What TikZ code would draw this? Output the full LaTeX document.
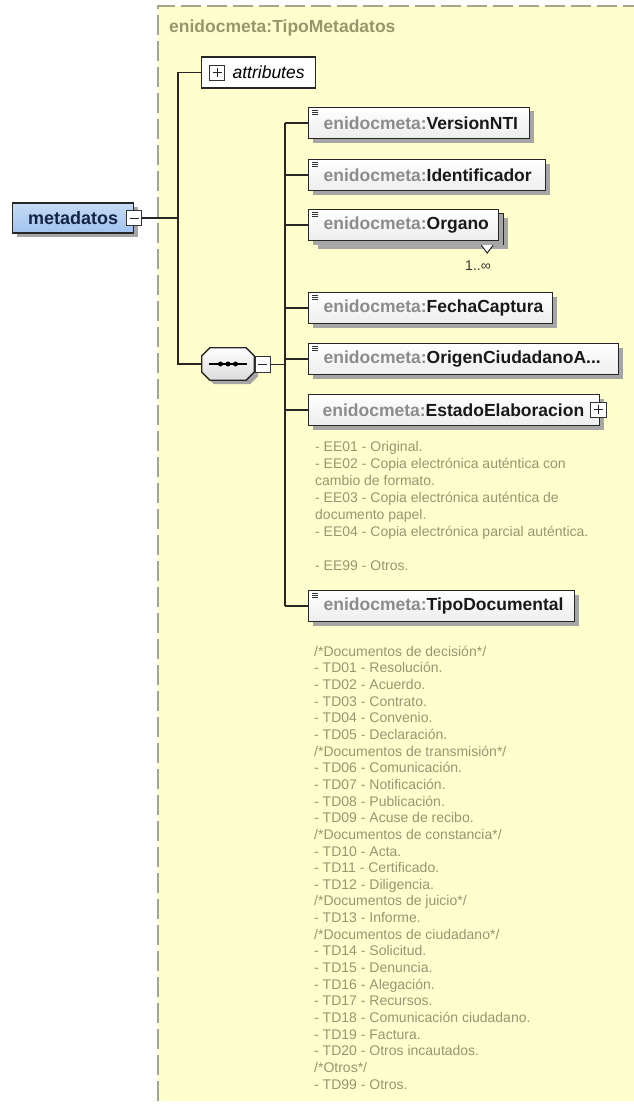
\documentclass[tikz,border=0pt]{standalone}
\usepackage{fontspec}
\setmainfont{Liberation Sans}
\usetikzlibrary{shadows,calc}
\definecolor{bgyel}{RGB}{255,255,206}
\definecolor{dashc}{RGB}{165,165,140}
\definecolor{lblgray}{RGB}{140,140,140}
\definecolor{namec}{RGB}{25,25,25}
\definecolor{docc}{RGB}{150,150,112}
\definecolor{titlec}{RGB}{150,150,110}
\definecolor{metafill}{RGB}{160,195,238}
\definecolor{navy}{RGB}{20,35,70}
\tikzset{
  conn/.style={draw=black!85, line width=1.6pt},
  shd/.style={drop shadow={shadow xshift=4pt, shadow yshift=-4pt, fill=black!35, opacity=1}},
  elbox/.style={draw=black!85, line width=1.2pt, top color=white, bottom color=black!7,
    anchor=west, minimum height=31pt, inner xsep=0pt, inner ysep=0pt, align=left,
    text width=#1, shd, font=\fontsize{17.5}{20}\selectfont\bfseries},
  backbox/.style={draw=black!85, line width=1.2pt, fill=white, anchor=west,
    minimum height=31pt, minimum width=#1, inner sep=0pt, shd},
  plainbox/.style={draw=black!85, line width=1.2pt, fill=white, anchor=west,
    minimum height=31pt, inner xsep=0pt, inner ysep=0pt, align=left, text width=#1,
    font=\fontsize{17.5}{20}\selectfont},
  pmbox/.style={draw=black!80, line width=1pt, fill=white, minimum width=15pt,
    minimum height=15pt, inner sep=0pt},
  pmsign/.style={draw=black!85, line width=1pt},
  metabox/.style={anchor=west, draw=black!85, line width=1.3pt, top color=metafill!60!white,
    bottom color=metafill, minimum width=121pt, minimum height=30pt, inner sep=0pt, shd,
    font=\fontsize{18}{20}\selectfont\bfseries, text=navy},
  octo/.style={draw=black!85, line width=1.3pt, top color=white, bottom color=black!14, shd},
  icon/.style={draw=black!80, line width=0.8pt},
  ttl/.style={anchor=west, inner sep=0pt, text=titlec, font=\fontsize{17.5}{20}\selectfont\bfseries},
  doc/.style={anchor=north west, inner sep=0pt, align=left, text=docc},
  mult/.style={inner sep=0pt, text=black!80, font=\fontsize{14}{16}\selectfont}
}
\begin{document}
\begin{tikzpicture}[x=1pt,y=-1pt]
\useasboundingbox (0,0) rectangle (634,1105);
\fill[white] (0,0) rectangle (634,1105);
\fill[bgyel] (158,6) rectangle (634,1101);
\draw[dashc, line width=1.4pt, dash pattern=on 20pt off 6pt] (158,1101) -- (158,6) -- (634,6);

\node[ttl] (title) at (169,28) {enidocmeta:TipoMetadatos};

% tree skeleton coordinates
\coordinate (ox) at (178,0);
\coordinate (ix) at (285,0);

% attributes
\node[plainbox=114pt] (attr) at (201,72.5) {\hspace*{31pt}\itshape attributes};
\node[pmbox] (attrPlus) at (217,73) {};
\draw[pmsign] (attrPlus.center) +(-4.5,0) -- +(4.5,0) (attrPlus.center) +(0,-4.5) -- +(0,4.5);

% root element
\node[metabox] (meta) at (12,218) {metadatos};
\node[pmbox] (metaMinus) at (134,218) {};
\draw[pmsign] (metaMinus.center) +(-4.5,0) -- +(4.5,0);

% sequence compositor
\node[minimum width=52pt, minimum height=32pt, inner sep=0pt] (seq) at (228,364) {};
\path[octo] ([xshift=8pt]seq.north west) -- ([xshift=-8pt]seq.north east) -- ([yshift=-8pt]seq.north east)
  -- ([yshift=8pt]seq.south east) -- ([xshift=-8pt]seq.south east) -- ([xshift=8pt]seq.south west)
  -- ([yshift=8pt]seq.south west) -- ([yshift=-8pt]seq.north west) -- cycle;
\draw[line width=1.2pt] ([xshift=-19pt]seq.center) -- ([xshift=19pt]seq.center);
\fill ([xshift=-7.5pt]seq.center) circle (2.5pt);
\fill (seq.center) circle (2.5pt);
\fill ([xshift=7.5pt]seq.center) circle (2.5pt);
\node[pmbox, minimum width=15pt, minimum height=16pt] (seqMinus) at (262.5,364.5) {};
\draw[pmsign] (seqMinus.center) +(-4.5,0) -- +(4.5,0);

% child elements
\node[elbox=221pt] (v1) at (308,123) {\hspace*{15pt}\textcolor{lblgray}{enidocmeta:}\textcolor{namec}{VersionNTI}};
\node[elbox=237pt] (v2) at (308,175) {\hspace*{15pt}\textcolor{lblgray}{enidocmeta:}\textcolor{namec}{Identificador}};
\node[backbox=190pt] (org2) at (313,229) {};
\draw[draw=black!85, line width=1pt, fill=white] ([xshift=-23pt]org2.south east) -- ++(6,8) -- ++(6,-8);
\node[elbox=190pt] (org) at (308,225) {\hspace*{15pt}\textcolor{lblgray}{enidocmeta:}\textcolor{namec}{Organo}};
\node[mult] (orgMult) at (478,266) {1..∞};
\node[elbox=244pt] (fecha) at (308,308) {\hspace*{15pt}\textcolor{lblgray}{enidocmeta:}\textcolor{namec}{FechaCaptura}};
\node[elbox=310pt] (origen) at (308,359) {\hspace*{15pt}\textcolor{lblgray}{enidocmeta:}\textcolor{namec}{OrigenCiudadanoA...}};
\node[elbox=291pt] (estado) at (308,410) {\hspace*{14pt}\textcolor{lblgray}{enidocmeta:}\textcolor{namec}{EstadoElaboracion}};
\node[pmbox, minimum width=16pt] (estPlus) at (598,409.5) {};
\draw[pmsign] (estPlus.center) +(-4.5,0) -- +(4.5,0) (estPlus.center) +(0,-4.5) -- +(0,4.5);
\node[elbox=266pt] (tipo) at (308,606) {\hspace*{15pt}\textcolor{lblgray}{enidocmeta:}\textcolor{namec}{TipoDocumental}};

% element icons
\foreach \n in {v1,v2,org,fecha,origen,tipo}{
  \draw[icon] ([shift={(4,3.5)}]\n.north west) -- ++(6,0);
  \draw[icon] ([shift={(4,5.5)}]\n.north west) -- ++(6,0);
  \draw[icon] ([shift={(4,7.5)}]\n.north west) -- ++(6,0);
}

% connectors
\draw[conn] (metaMinus.east) -- (metaMinus.east -| ox);
\draw[conn] (attr.west) -- (attr.west -| ox) -- (seq.west -| ox) -- (seq.west);
\draw[conn] (seqMinus.east) -- (seqMinus.east -| ix);
\draw[conn] (v1.west -| ix) -- (tipo.west -| ix);
\foreach \n in {v1,v2,org,fecha,origen,estado,tipo}{
  \draw[conn] (\n.west -| ix) -- (\n.west);
}

% documentation
\node[doc, font=\fontsize{14}{17}\selectfont] (eedoc) at (315,437) {\rule{0pt}{14pt}- EE01 - Original.\\
- EE02 - Copia electrónica auténtica con\\
cambio de formato.\\
- EE03 - Copia electrónica auténtica de\\
documento papel.\\
- EE04 - Copia electrónica parcial auténtica.\\[17pt]
- EE99 - Otros.};

\node[doc, font=\fontsize{14}{16.65}\selectfont] (tddoc) at (314,642) {\rule{0pt}{14pt}/*Documentos de decisión*/\\
- TD01 - Resolución.\\
- TD02 - Acuerdo.\\
- TD03 - Contrato.\\
- TD04 - Convenio.\\
- TD05 - Declaración.\\
/*Documentos de transmisión*/\\
- TD06 - Comunicación.\\
- TD07 - Notificación.\\
- TD08 - Publicación.\\
- TD09 - Acuse de recibo.\\
/*Documentos de constancia*/\\
- TD10 - Acta.\\
- TD11 - Certificado.\\
- TD12 - Diligencia.\\
/*Documentos de juicio*/\\
- TD13 - Informe.\\
/*Documentos de ciudadano*/\\
- TD14 - Solicitud.\\
- TD15 - Denuncia.\\
- TD16 - Alegación.\\
- TD17 - Recursos.\\
- TD18 - Comunicación ciudadano.\\
- TD19 - Factura.\\
- TD20 - Otros incautados.\\
/*Otros*/\\
- TD99 - Otros.};
\end{tikzpicture}
\end{document}
